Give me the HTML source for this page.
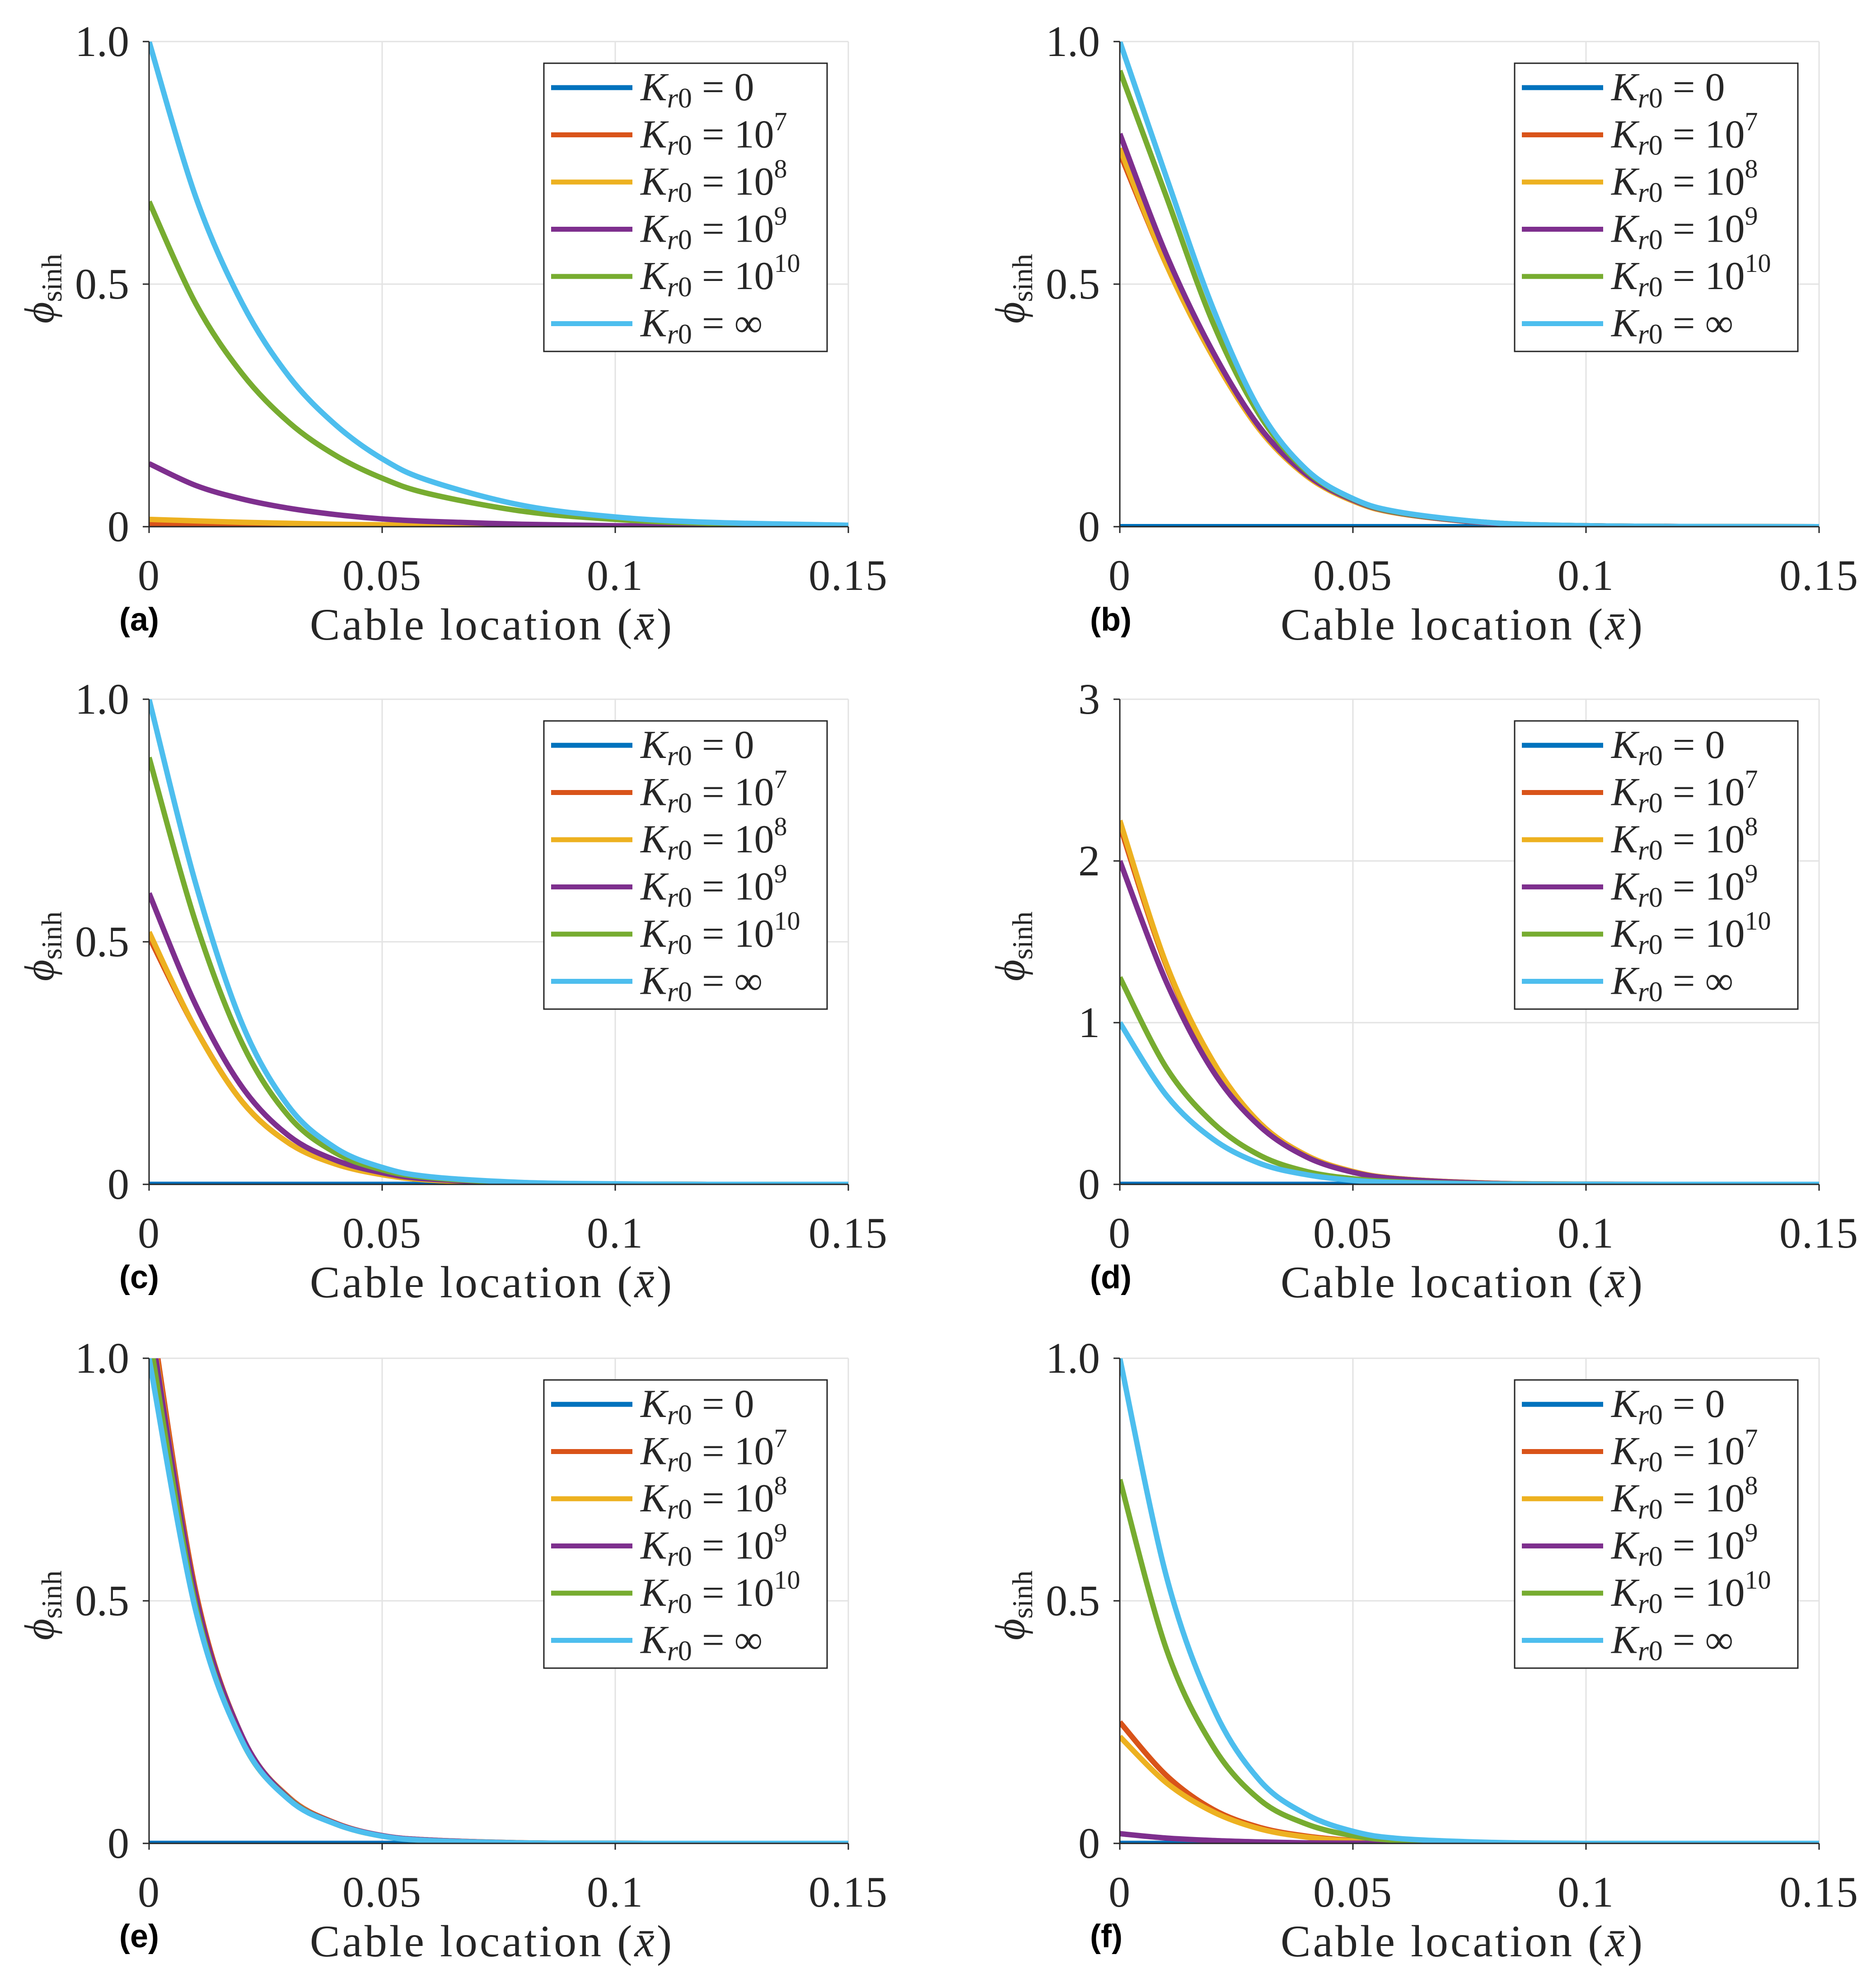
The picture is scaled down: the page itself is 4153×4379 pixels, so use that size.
<!DOCTYPE html>
<html><head><meta charset="utf-8">
<style>
html,body{margin:0;padding:0;background:#fff;}
svg{display:block;}
text{font-family:"Liberation Serif",serif;fill:#262626;}
</style></head>
<body>
<svg id="fig" width="4153" height="4379" viewBox="0 0 4153 4379" xmlns="http://www.w3.org/2000/svg"></svg>
<script>
// Shared x sample locations (cable location, x-bar)
const xSamples = [0,0.01,0.02,0.03,0.04,0.05,0.06,0.08,0.1,0.12,0.15];
const xTicks = [0,0.05,0.1,0.15];
const xTickLabels = ["0","0.05","0.1","0.15"];
const seriesNames = ["K0","K1e7","K1e8","K1e9","K1e10","Kinf"];
const legendValues = ["0","10^7","10^8","10^9","10^10","∞"];
const colors = ["#0072BD","#D95319","#EDB120","#7E2F8E","#77AC30","#4DBEEE"];

// Panel (a)
const aBlue   = [0,0,0,0,0,0,0,0,0,0,0];
const aOrange = [0.005,0.004,0.003,0.002,0.0015,0.001,0.0007,0.0003,0.0001,0,0];
const aYellow = [0.015,0.012,0.009,0.007,0.005,0.004,0.003,0.0015,0.0007,0.0003,0];
const aPurple = [0.13,0.085,0.057,0.038,0.025,0.016,0.011,0.005,0.002,0.001,0];
const aGreen  = [0.67,0.46,0.315,0.215,0.147,0.10,0.068,0.032,0.015,0.007,0.002];
const aCyan   = [1.0,0.68,0.46,0.31,0.21,0.14,0.095,0.044,0.02,0.009,0.003];
// Panel (b)
const bBlue   = [0,0,0,0,0,0,0,0,0,0,0];
const bOrange = [0.77,0.54,0.35,0.20,0.105,0.053,0.027,0.007,0.002,0.0005,0];
const bYellow = [0.78,0.54,0.35,0.20,0.105,0.053,0.027,0.007,0.002,0.0005,0];
const bPurple = [0.81,0.56,0.36,0.205,0.108,0.055,0.028,0.007,0.002,0.0005,0];
const bGreen  = [0.94,0.68,0.42,0.23,0.115,0.057,0.029,0.008,0.002,0.0005,0];
const bCyan   = [1.0,0.72,0.45,0.24,0.118,0.058,0.03,0.008,0.002,0.0005,0];
// Panel (c)
const cBlue   = [0,0,0,0,0,0,0,0,0,0,0];
const cOrange = [0.51,0.32,0.17,0.085,0.042,0.02,0.009,0.002,0.0005,0,0];
const cYellow = [0.52,0.32,0.17,0.085,0.042,0.02,0.009,0.002,0.0005,0,0];
const cPurple = [0.60,0.37,0.20,0.10,0.05,0.024,0.011,0.003,0.0006,0,0];
const cGreen  = [0.88,0.54,0.29,0.14,0.065,0.03,0.014,0.003,0.0007,0,0];
const cCyan   = [1.0,0.62,0.33,0.16,0.075,0.035,0.016,0.004,0.001,0,0];
// Panel (d)
const dBlue   = [0,0,0,0,0,0,0,0,0,0,0];
const dOrange = [2.22,1.35,0.75,0.38,0.18,0.08,0.035,0.007,0.001,0,0];
const dYellow = [2.25,1.36,0.76,0.38,0.18,0.08,0.035,0.007,0.001,0,0];
const dPurple = [2.0,1.25,0.70,0.36,0.17,0.075,0.033,0.006,0.001,0,0];
const dGreen  = [1.28,0.72,0.38,0.18,0.08,0.035,0.015,0.003,0.0005,0,0];
const dCyan   = [1.0,0.55,0.28,0.13,0.06,0.025,0.011,0.002,0.0004,0,0];
// Panel (e)
const eBlue   = [0,0,0,0,0,0,0,0,0,0,0];
const eOrange = [1.12,0.52,0.22,0.095,0.042,0.016,0.007,0.0012,0.0002,0,0];
const eYellow = [1.1,0.51,0.22,0.094,0.041,0.016,0.007,0.0012,0.0002,0,0];
const ePurple = [1.09,0.51,0.22,0.093,0.041,0.016,0.007,0.0012,0.0002,0,0];
const eGreen  = [1.05,0.49,0.21,0.091,0.04,0.015,0.006,0.001,0.0002,0,0];
const eCyan   = [1.0,0.48,0.21,0.09,0.04,0.015,0.006,0.001,0.0002,0,0];
// Panel (f)
const fBlue   = [0,0,0,0,0,0,0,0,0,0,0];
const fOrange = [0.25,0.14,0.07,0.033,0.015,0.006,0.0025,0.0004,0,0,0];
const fYellow = [0.22,0.125,0.065,0.03,0.013,0.005,0.002,0.0003,0,0,0];
const fPurple = [0.02,0.011,0.006,0.003,0.001,0.0005,0.0002,0,0,0,0];
const fGreen  = [0.75,0.40,0.20,0.09,0.04,0.016,0.006,0.001,0,0,0];
const fCyan   = [1.0,0.55,0.28,0.13,0.06,0.025,0.01,0.002,0,0,0];

const yTicksUnit = [0,0.5,1.0];
const yTickLabelsUnit = ["0","0.5","1.0"];
const yTicksD = [0,1,2,3];
const yTickLabelsD = ["0","1","2","3"];

const panels = [
  {id:"a", col:0,row:0, ymax:1, yt:yTicksUnit, yl:yTickLabelsUnit, s:[aBlue,aOrange,aYellow,aPurple,aGreen,aCyan]},
  {id:"b", col:1,row:0, ymax:1, yt:yTicksUnit, yl:yTickLabelsUnit, s:[bBlue,bOrange,bYellow,bPurple,bGreen,bCyan]},
  {id:"c", col:0,row:1, ymax:1, yt:yTicksUnit, yl:yTickLabelsUnit, s:[cBlue,cOrange,cYellow,cPurple,cGreen,cCyan]},
  {id:"d", col:1,row:1, ymax:3, yt:yTicksD, yl:yTickLabelsD, s:[dBlue,dOrange,dYellow,dPurple,dGreen,dCyan]},
  {id:"e", col:0,row:2, ymax:1, yt:yTicksUnit, yl:yTickLabelsUnit, s:[eBlue,eOrange,eYellow,ePurple,eGreen,eCyan]},
  {id:"f", col:1,row:2, ymax:1, yt:yTicksUnit, yl:yTickLabelsUnit, s:[fBlue,fOrange,fYellow,fPurple,fGreen,fCyan]}
];

const NS="http://www.w3.org/2000/svg";
const svg=document.getElementById("fig");
function mk(tag,attrs,parent){const e=document.createElementNS(NS,tag);for(const k in attrs)e.setAttribute(k,attrs[k]);(parent||svg).appendChild(e);return e;}

const colL=[330,2479], rowT=[92,1548,3007], W=1548, H=1074;

function splinePath(pts){
  let d="M"+pts[0][0].toFixed(1)+","+pts[0][1].toFixed(1);
  for(let i=0;i<pts.length-1;i++){
    const p0=pts[Math.max(0,i-1)],p1=pts[i],p2=pts[i+1],p3=pts[Math.min(pts.length-1,i+2)];
    const c1x=p1[0]+(p2[0]-p0[0])/6,c1y=p1[1]+(p2[1]-p0[1])/6;
    const c2x=p2[0]-(p3[0]-p1[0])/6,c2y=p2[1]-(p3[1]-p1[1])/6;
    d+=" C"+c1x.toFixed(1)+","+c1y.toFixed(1)+" "+c2x.toFixed(1)+","+c2y.toFixed(1)+" "+p2[0].toFixed(1)+","+p2[1].toFixed(1);
  }
  return d;
}

panels.forEach(p=>{
  const L=colL[p.col], T=rowT[p.row];
  const xs=v=>L+v/0.15*W;
  const ys=v=>T+H-v/p.ymax*H;
  const g=mk("g",{});
  
  
  const clipId="clip"+p.id;
  const cp=mk("clipPath",{id:clipId},g);
  mk("rect",{x:L,y:T,width:W,height:H},cp);
  xTicks.forEach((t,i)=>{
    if(i>0){const gl=mk("line",{x1:xs(t),x2:xs(t),y1:T,y2:T+H,stroke:"#e3e3e3","stroke-width":3},g);
    }
  });
  p.yt.forEach((t,i)=>{
    if(i>0){const gl=mk("line",{x1:L,x2:L+W,y1:ys(t),y2:ys(t),stroke:"#e3e3e3","stroke-width":3},g);
    }
  });
  p.s.forEach((arr,si)=>{
    const pts=arr.map((v,i)=>[xs(xSamples[i]),ys(v)]);
    const path=mk("path",{d:splinePath(pts),fill:"none",stroke:colors[si],"stroke-width":12,"stroke-linejoin":"round","clip-path":"url(#"+clipId+")"},g);
    
    
  });
  const ax=mk("path",{d:`M${L},${T} L${L},${T+H} L${L+W},${T+H}`,fill:"none",stroke:"#262626","stroke-width":3},g);
  
  p.yt.forEach((t,i)=>{
    mk("line",{x1:L-14,x2:L,y1:ys(t),y2:ys(t),stroke:"#262626","stroke-width":3},g);
    const tx=mk("text",{x:L-44,y:ys(t)+32,"text-anchor":"end","font-size":96},g);
    tx.textContent=p.yl[i];
    
  });
  xTicks.forEach((t,i)=>{
    mk("line",{x1:xs(t),x2:xs(t),y1:T+H,y2:T+H+14,stroke:"#262626","stroke-width":3},g);
    const tx=mk("text",{x:xs(t),y:T+H+140,"text-anchor":"middle","font-size":96,"letter-spacing":2},g);
    tx.textContent=xTickLabels[i];
    
  });
  const xt=mk("text",{x:L+759,y:T+H+250,"text-anchor":"middle","font-size":100,"letter-spacing":5},g);
  xt.innerHTML='Cable location (<tspan font-style="italic">x̄</tspan>)';
  
  const yt=mk("text",{x:0,y:0,"text-anchor":"middle","font-size":92,transform:`translate(${L-212},${T+H/2+10}) rotate(-90)`},g);
  yt.innerHTML='<tspan font-style="italic">ϕ</tspan><tspan font-size="64" dy="18">sinh</tspan>';
  
  const pl=mk("text",{x:L-66,y:T+H+230,"font-size":72,"font-weight":"bold",style:"font-family:'Liberation Sans',sans-serif;fill:#000"},g);
  pl.textContent="("+p.id+")";
  
  const lg=mk("g",{},g);
  
  mk("rect",{x:L+874,y:T+48,width:627,height:638,fill:"#fff",stroke:"#262626","stroke-width":3},lg);
  legendValues.forEach((v,i)=>{
    const y=T+102+i*104.5;
    const e=mk("g",{},lg);
    
    mk("line",{x1:L+890,x2:L+1070,y1:y,y2:y,stroke:colors[i],"stroke-width":11},e);
    const t=mk("text",{x:L+1088,y:y+28,"font-size":88},e);
    let val=v;
    if(v.indexOf("^")>0){const [b,ex]=v.split("^");val=b+'<tspan font-size="58" dy="-38">'+ex+'</tspan>';}
    t.innerHTML='<tspan font-style="italic">K</tspan><tspan font-size="62" dy="16" font-style="italic">r</tspan><tspan font-size="62">0</tspan><tspan dy="-16"> = '+val+'</tspan>';
  });
});
</script>
</body></html>
